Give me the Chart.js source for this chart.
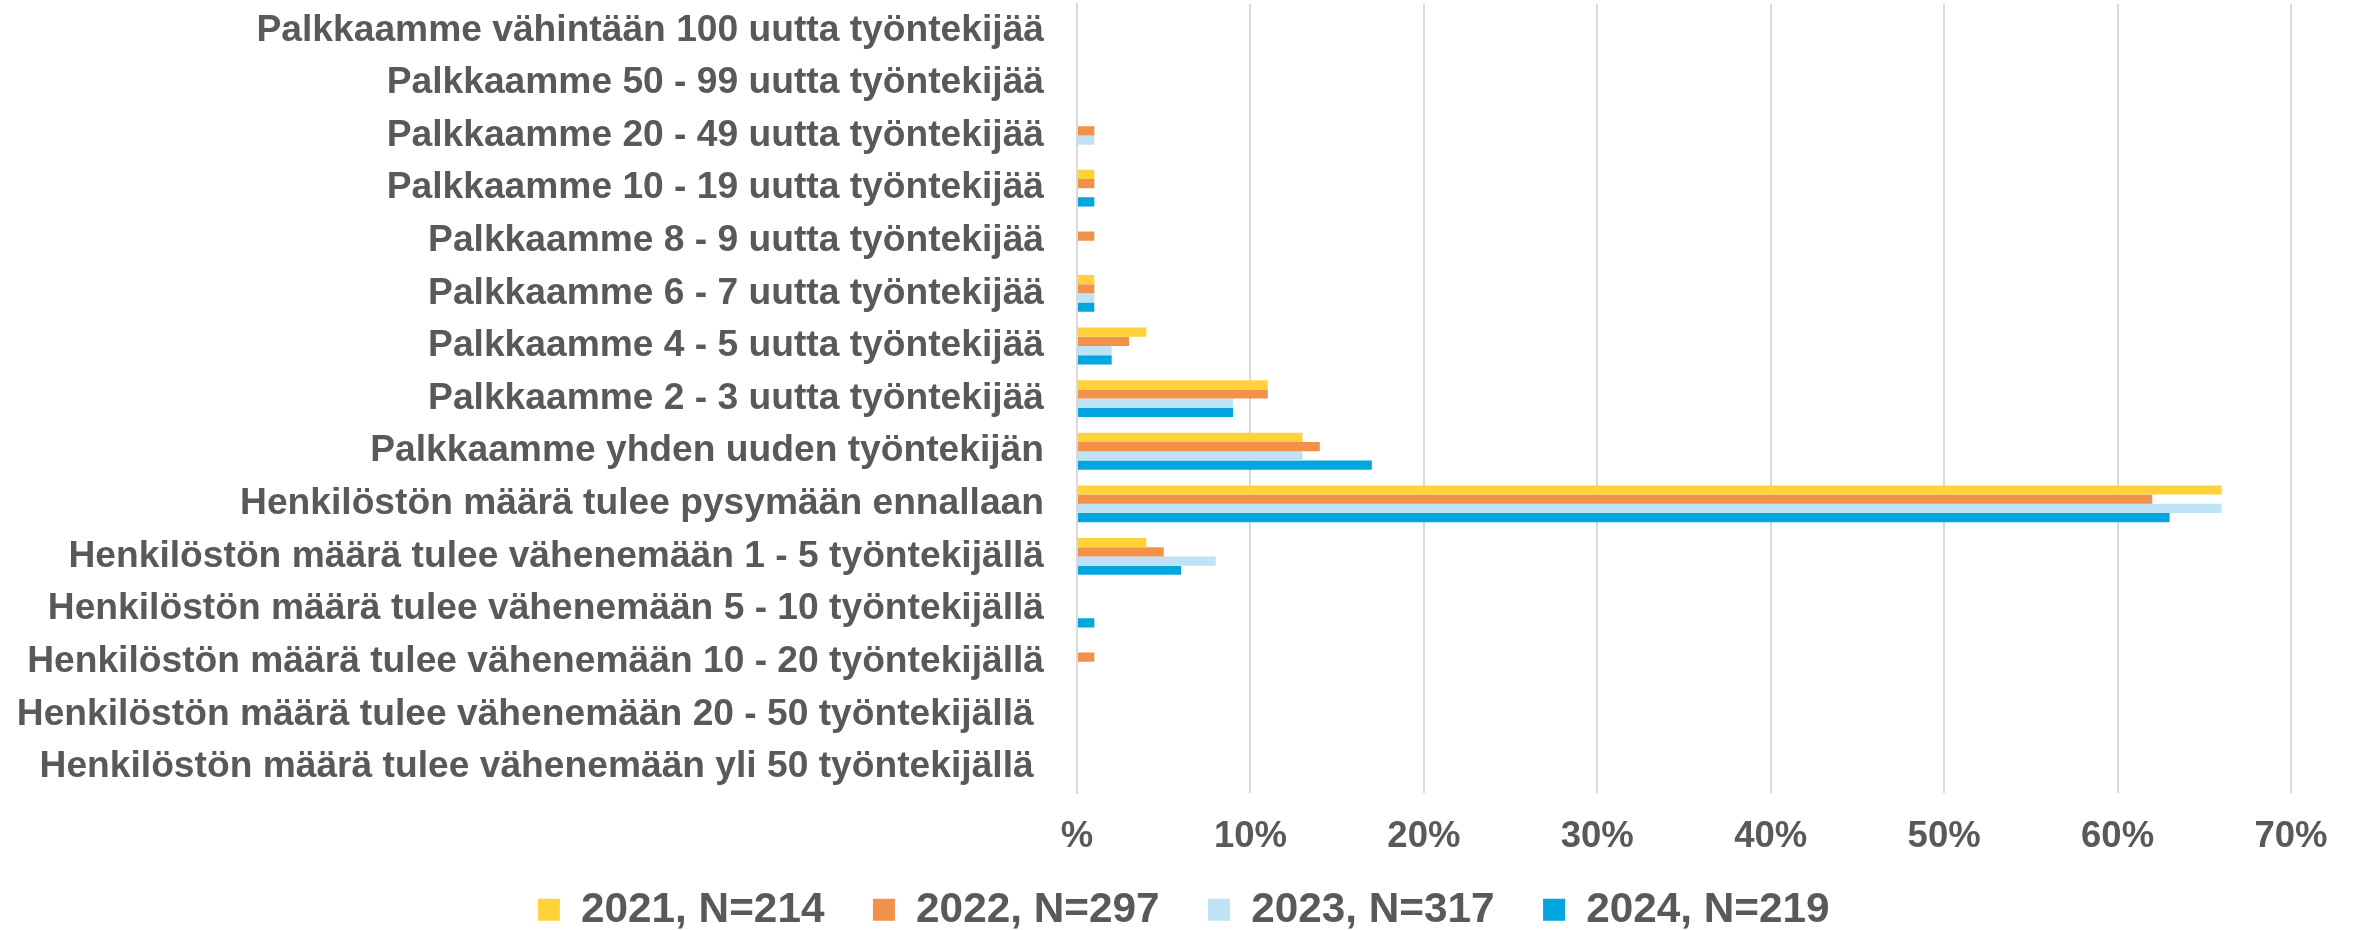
<!DOCTYPE html>
<html><head><meta charset="utf-8">
<script src="https://cdn.jsdelivr.net/npm/chart.js@4/dist/chart.umd.min.js"></script>
<style>html,body{margin:0;padding:0;background:#fff;} canvas{display:block;}</style>
</head><body>
<canvas id="c" width="2359" height="930"></canvas>
<script>
const categories = [
  'Palkkaamme vähintään 100 uutta työntekijää',
  'Palkkaamme 50 - 99 uutta työntekijää',
  'Palkkaamme 20 - 49 uutta työntekijää',
  'Palkkaamme 10 - 19 uutta työntekijää',
  'Palkkaamme 8 - 9 uutta työntekijää',
  'Palkkaamme 6 - 7 uutta työntekijää',
  'Palkkaamme 4 - 5 uutta työntekijää',
  'Palkkaamme 2 - 3 uutta työntekijää',
  'Palkkaamme yhden uuden työntekijän',
  'Henkilöstön määrä tulee pysymään ennallaan',
  'Henkilöstön määrä tulee vähenemään 1 - 5 työntekijällä',
  'Henkilöstön määrä tulee vähenemään 5 - 10 työntekijällä',
  'Henkilöstön määrä tulee vähenemään 10 - 20 työntekijällä',
  'Henkilöstön määrä tulee vähenemään 20 - 50 työntekijällä ',
  'Henkilöstön määrä tulee vähenemään yli 50 työntekijällä '
];
const series2021 = [0, 0, 0, 1, 0, 1, 4, 11, 13, 66, 4, 0, 0, 0, 0];
const series2022 = [0, 0, 1, 1, 1, 1, 3, 11, 14, 62, 5, 0, 1, 0, 0];
const series2023 = [0, 0, 1, 0, 0, 1, 2, 9, 13, 66, 8, 0, 0, 0, 0];
const series2024 = [0, 0, 0, 1, 0, 1, 2, 9, 17, 63, 6, 1, 0, 0, 0];
const seriesNames = ['2021, N=214', '2022, N=297', '2023, N=317', '2024, N=219'];
const seriesColors = ['#FFD23C', '#F2914A', '#BEE3F6', '#00A6DD'];
const tickLabels = ['%', '10%', '20%', '30%', '40%', '50%', '60%', '70%'];

const FONT = '"Liberation Sans", Arial, sans-serif';
const TXT = '#595959';

const allSeries = [series2021, series2022, series2023, series2024];
const datasets = allSeries.map((d, i) => ({
  label: seriesNames[i],
  data: d,
  backgroundColor: seriesColors[i],
  borderWidth: 0,
  categoryPercentage: 0.7,
  barPercentage: 1.0
}));

const fixPlugin = {
  id: 'fixLayout',
  afterLayout(chart) {
    chart.scales.x.bottom = chart.height;
    if (chart.legend) { chart.legend.left = 8.5; chart.legend.right = chart.width; }
  }
};

new Chart(document.getElementById('c'), {
  type: 'bar',
  data: { labels: categories, datasets },
  plugins: [fixPlugin],
  options: {
    indexAxis: 'y',
    responsive: false,
    animation: false,
    layout: { padding: { top: 4, right: 68, left: 0, bottom: -11 } },
    plugins: {
      tooltip: { enabled: false },
      legend: {
        position: 'bottom',
        labels: {
          font: { family: FONT, size: 42.3, weight: 'bold' },
          color: TXT,
          boxWidth: 22,
          boxHeight: 22,
          padding: 48.5
        }
      }
    },
    scales: {
      x: {
        min: 0, max: 70,
        ticks: {
          stepSize: 10,
          font: { family: FONT, size: 36.5, weight: 'bold' },
          color: TXT,
          padding: 22,
          callback: (v) => tickLabels[Math.round(v / 10)]
        },
        grid: { color: '#D9D9D9', lineWidth: 2, drawTicks: false },
        border: { display: false },
        afterFit: (s) => { s.height = 47; s.paddingLeft = 0; s.paddingRight = 0; }
      },
      y: {
        ticks: {
          font: { family: FONT, size: 37.2, weight: 'bold' },
          color: TXT,
          padding: 33,
          autoSkip: false
        },
        grid: { display: false, drawTicks: false },
        border: { display: true, color: '#D9D9D9', width: 2 },
        afterFit: (s) => { s.width = 1077; s.paddingTop = 0; s.paddingBottom = 0; }
      }
    }
  }
});
</script>
</body></html>
